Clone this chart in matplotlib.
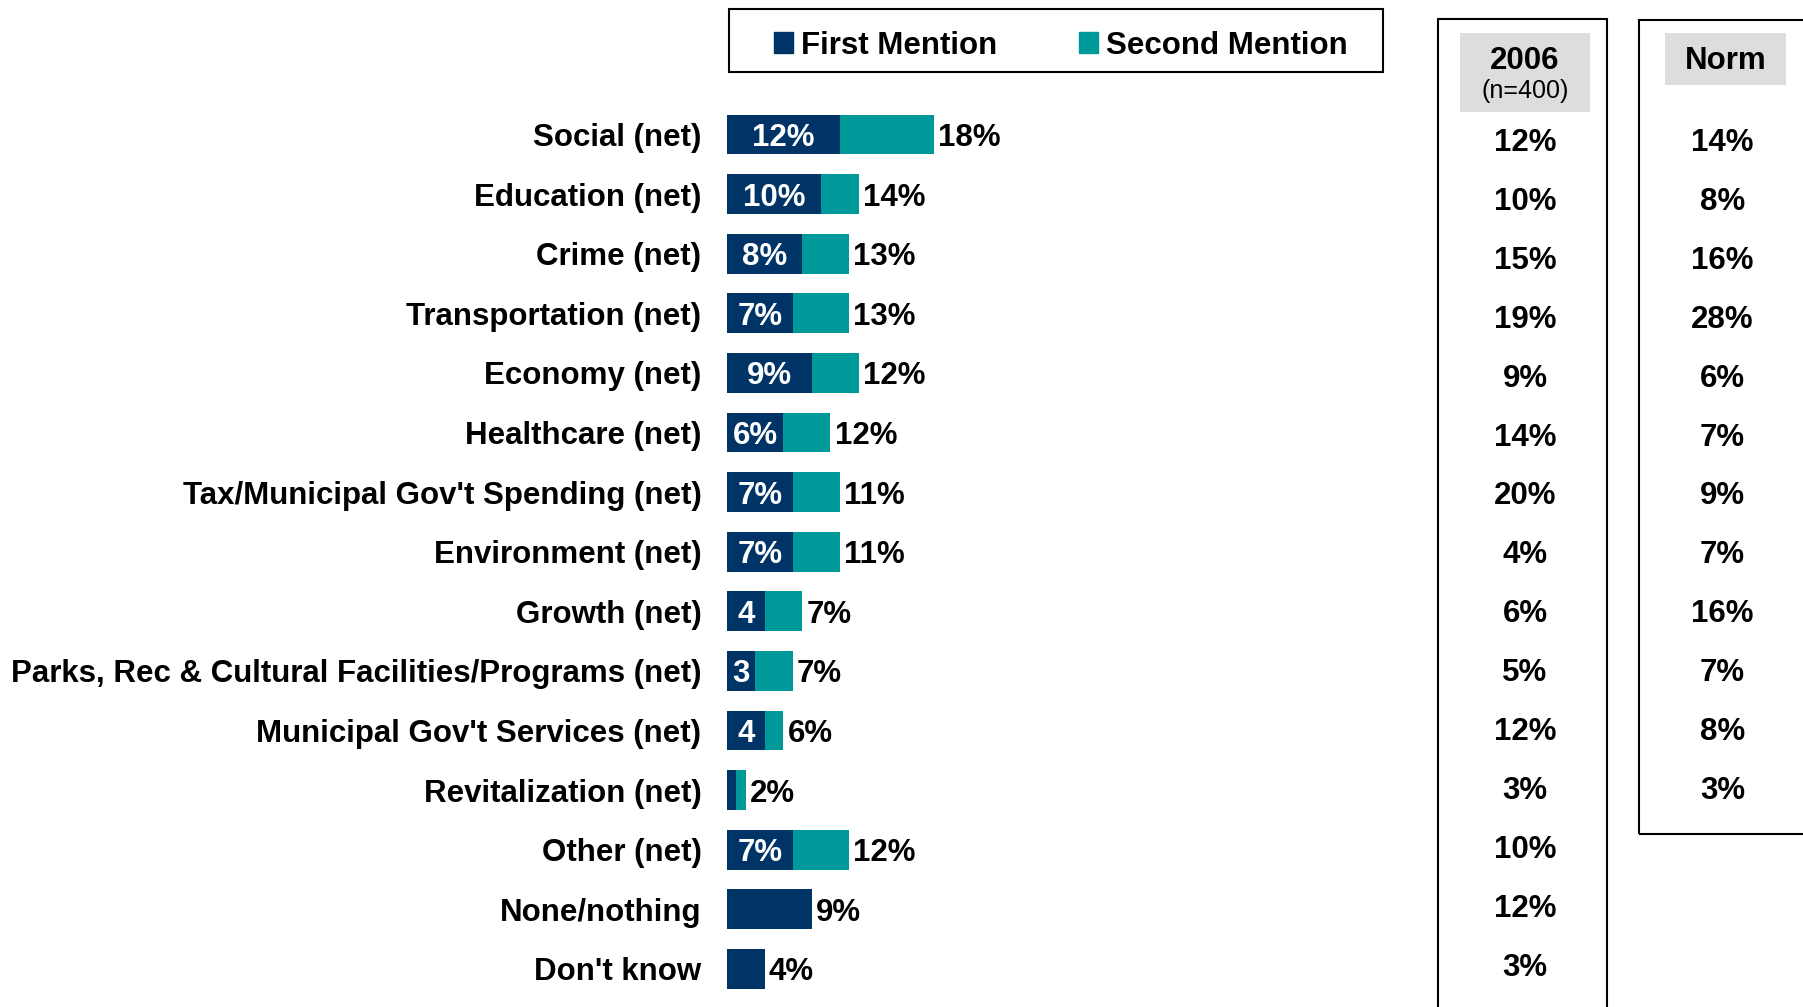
import numpy as np
import matplotlib
matplotlib.use('Agg')
import matplotlib.pyplot as plt
from matplotlib.patches import Rectangle, Patch
from matplotlib.transforms import blended_transform_factory

plt.rcParams['font.family'] = ['Liberation Sans', 'DejaVu Sans']
plt.rcParams['font.weight'] = 'bold'

## data
categories = ['Social (net)', 'Education (net)', 'Crime (net)', 'Transportation (net)',
              'Economy (net)', 'Healthcare (net)', "Tax/Municipal Gov't Spending (net)",
              'Environment (net)', 'Growth (net)',
              'Parks, Rec & Cultural Facilities/Programs (net)',
              "Municipal Gov't Services (net)", 'Revitalization (net)', 'Other (net)',
              'None/nothing', "Don't know"]
first_mention = [12, 10, 8, 7, 9, 6, 7, 7, 4, 3, 4, 1, 7, 9, 4]
second_mention = [10, 4, 5, 6, 5, 5, 5, 5, 4, 4, 2, 1, 6, 0, 0]
inside_labels = ['12%', '10%', '8%', '7%', '9%', '6%', '7%', '7%', '4', '3', '4', '', '7%', '', '']
total_labels = ['18%', '14%', '13%', '13%', '12%', '12%', '11%', '11%', '7%', '7%', '6%',
                '2%', '12%', '9%', '4%']
col_2006 = ['12%', '10%', '15%', '19%', '9%', '14%', '20%', '4%', '6%', '5%', '12%',
            '3%', '10%', '12%', '3%']
col_norm = ['14%', '8%', '16%', '28%', '6%', '7%', '9%', '7%', '16%', '7%', '8%', '3%']

navy = '#003366'
teal = '#009999'
grey = '#DDDDDD'
fs = 22.5

W, H = 1803, 1007
fig = plt.figure(figsize=(W / 100, H / 100), dpi=100)

# bar axes: pixel based layout
px_per_unit = 9.4
row_step = 59.6
first_row_px = 134.5
bar_left = 727
ax_w = 680
ax = fig.add_axes([bar_left / W, 0, ax_w / W, 1])
ax.set_xlim(0, ax_w / px_per_unit)
ax.set_ylim((H - first_row_px) / row_step, -first_row_px / row_step)

y = np.arange(len(categories))
first = np.array(first_mention)
second = np.array(second_mention)
ax.barh(y, first, height=0.67, color=navy)
ax.barh(y, second, left=first, height=0.67, color=teal)

ax.set_yticks(y)
ax.set_yticklabels(categories, fontsize=fs, fontweight='bold')
ax.tick_params(axis='y', length=0, pad=18.4)
ax.set_xticks([])
for s in ax.spines.values():
    s.set_visible(False)
ax.patch.set_visible(False)

for i in range(len(categories)):
    if inside_labels[i]:
        ax.text(first[i] / 2, y[i], inside_labels[i], ha='center', va='center_baseline',
                color='white', fontsize=fs)
    ax.annotate(total_labels[i], (first[i] + second[i], y[i]), xytext=(3, 0),
                textcoords='offset points', ha='left', va='center_baseline', fontsize=fs)

# comparison columns (rows there are spaced a little tighter than the bars)
trans = blended_transform_factory(fig.transFigure, ax.transData)
col_y = (139.1 + 58.98 * y - first_row_px) / row_step
for i, v in enumerate(col_2006):
    ax.text(1525 / W, col_y[i], v, transform=trans, ha='center', va='center_baseline',
            fontsize=fs, clip_on=False)
for i, v in enumerate(col_norm):
    ax.text(1722.6 / W, col_y[i], v, transform=trans, ha='center', va='center_baseline',
            fontsize=fs, clip_on=False)

# boxes and headers
fig.add_artist(Rectangle((1437.5 / W, -0.05), 169 / W, 1.05 - 19.5 / H, fill=False,
                         lw=1.5, ec='black', transform=fig.transFigure))
fig.add_artist(Rectangle((1639 / W, 1 - 834 / H), 200 / W, (834 - 19.5) / H, fill=False,
                         lw=1.5, ec='black', transform=fig.transFigure))
fig.add_artist(Rectangle((1460 / W, 1 - 112 / H), 130 / W, 79 / H, color=grey, lw=0,
                         transform=fig.transFigure))
fig.add_artist(Rectangle((1665 / W, 1 - 85 / H), 121 / W, 52 / H, color=grey, lw=0,
                         transform=fig.transFigure))
fig.text(1525 / W, 1 - 57.5 / H, '2006', ha='center', va='center_baseline', fontsize=fs)
fig.text(1525 / W, 1 - 88.5 / H, '(n=400)', ha='center', va='center_baseline',
         fontsize=18, fontweight='normal')
fig.text(1725.5 / W, 1 - 57.5 / H, 'Norm', ha='center', va='center_baseline', fontsize=fs)

# legend
fig.add_artist(Rectangle((729 / W, 1 - 72 / H), 654 / W, 63 / H, fill=False, lw=1.5,
                         ec='black', transform=fig.transFigure))
handles = [Patch(color=navy, label='First Mention'), Patch(color=teal, label='Second Mention')]
fig.legend(handles=handles, loc='center left', bbox_to_anchor=(758 / W, 1 - 45.5 / H), ncol=2,
           frameon=False, borderpad=0, handlelength=0.62, handleheight=0.62,
           handletextpad=0.26, columnspacing=2.6, prop={'size': fs, 'weight': 'bold'})

plt.savefig('out.png', dpi=100)
